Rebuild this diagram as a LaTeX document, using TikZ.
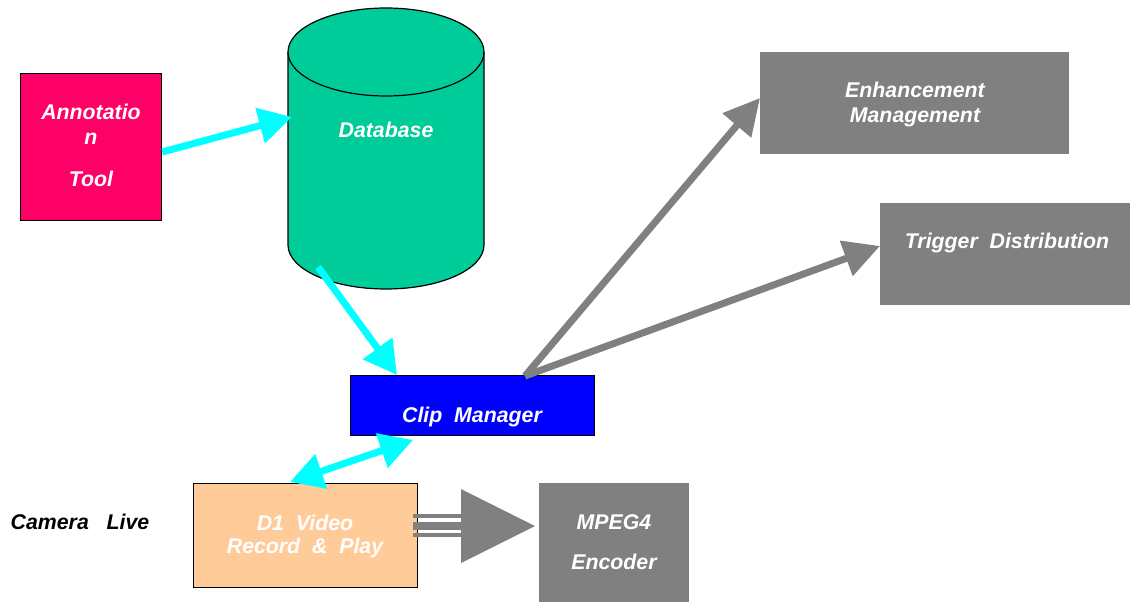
\documentclass[tikz,border=0pt]{standalone}
\usepackage{fontspec}
\setmainfont{Liberation Sans}
\usetikzlibrary{arrows.meta}
\definecolor{annot}{HTML}{FF0066}
\definecolor{dbgreen}{HTML}{00CC99}
\definecolor{clipblue}{HTML}{0000FF}
\definecolor{peach}{HTML}{FFCC99}
\definecolor{greybox}{HTML}{808080}
\definecolor{cyanline}{HTML}{00FFFF}
\tikzset{
  lbl/.style={font=\fontsize{21.3}{26}\selectfont\bfseries\itshape, text=white, inner sep=0pt, anchor=base},
  boxa/.style={draw=black, line width=1.2pt, inner sep=0pt},
  cyanarrow/.style={draw=cyanline, line width=7pt, -{Triangle[length=33pt,width=35pt]}},
  cyanboth/.style={draw=cyanline, line width=7pt, {Triangle[length=33pt,width=35pt]}-{Triangle[length=33pt,width=35pt]}},
  grayarrow/.style={draw=greybox, line width=7pt, -{Triangle[length=36pt,width=36pt]}},
}
\begin{document}
\begin{tikzpicture}[x=1pt,y=-1pt]
\useasboundingbox (0,0) rectangle (1130,602);
% Annotation tool
\node[boxa, fill=annot, minimum width=141pt, minimum height=147pt, anchor=north west] (annot) at (20,73) {};
\node[lbl] (annottxt1) at (91,119) {Annotatio};
\node[lbl] (annottxt2) at (91,144) {n};
\node[lbl] (annottxt3) at (91,186) {Tool};
% Database cylinder
\draw[black, line width=1.2pt, fill=dbgreen] (288,52) -- (288,245) arc[start angle=180, end angle=0, x radius=98, y radius=44] -- (484,52) arc[start angle=0, end angle=-180, x radius=98, y radius=44] -- cycle;
\draw[black, line width=1.2pt] (288,52) arc[start angle=180, end angle=0, x radius=98, y radius=44];
\node[lbl] (db) at (386,137) {Database};
\coordinate (dbin) at (292,117);
\coordinate (dbout) at (318,267);
% Clip manager
\node[boxa, fill=clipblue, minimum width=244pt, minimum height=60pt, anchor=north west] (clip) at (350,375) {};
\node[lbl] (cliptxt) at (472,422) {Clip\ \ Manager};
\coordinate (clipin) at (397,375);
\coordinate (clipout) at (525,376);
\coordinate (clipd1) at (413,440);
% D1 video
\node[boxa, fill=peach, minimum width=224pt, minimum height=104pt, anchor=north west] (d1) at (193,483) {};
\node[lbl] (d1txt1) at (305,530) {D1\ \ Video};
\node[lbl] (d1txt2) at (305,553) {Record\ \ \&\ \ Play};
\coordinate (d1clip) at (290,482);
% MPEG4
\node[fill=greybox, minimum width=150pt, minimum height=120pt, anchor=north west, inner sep=0pt] (mpeg) at (539,483) {};
\node[lbl] (mpegtxt1) at (614,529) {MPEG4};
\node[lbl] (mpegtxt2) at (614,569) {Encoder};
% Enhancement
\node[fill=greybox, minimum width=309pt, minimum height=102pt, anchor=north west, inner sep=0pt] (enh) at (760,52) {};
\node[lbl] (enhtxt1) at (915,97) {Enhancement};
\node[lbl] (enhtxt2) at (915,122) {Management};
\coordinate (enhin) at (760,98);
% Trigger
\node[fill=greybox, minimum width=250pt, minimum height=102pt, anchor=north west, inner sep=0pt] (trig) at (880,203) {};
\node[lbl] (trigtxt) at (1007,248) {Trigger\ \ Distribution};
\coordinate (trigin) at (880,246);
% Camera live
\node[lbl, text=black] (cam) at (80,529) {Camera\ \ \ Live};
% Arrows
\draw[cyanarrow] (annot.east |- 0,152) -- (dbin);
\draw[cyanarrow] (dbout) -- (clipin);
\draw[cyanboth] (d1clip) -- (clipd1);
\draw[grayarrow] (clipout) -- (enhin);
\draw[grayarrow] (clipout) -- (trigin);
% D1 to MPEG4 connector
\coordinate (tri1) at (461,489);
\coordinate (tri2) at (461,563);
\coordinate (tritip) at (535,526);
\coordinate (bus) at (413,526);
\draw[greybox, line width=4pt] (bus |- 0,516) -- (tri1 |- 0,516);
\draw[greybox, line width=7.5pt] (bus) -- (tri1 |- bus);
\draw[greybox, line width=4pt] (bus |- 0,535) -- (tri1 |- 0,535);
\fill[greybox] (tri1) -- (tritip) -- (tri2) -- cycle;
\end{tikzpicture}
\end{document}
